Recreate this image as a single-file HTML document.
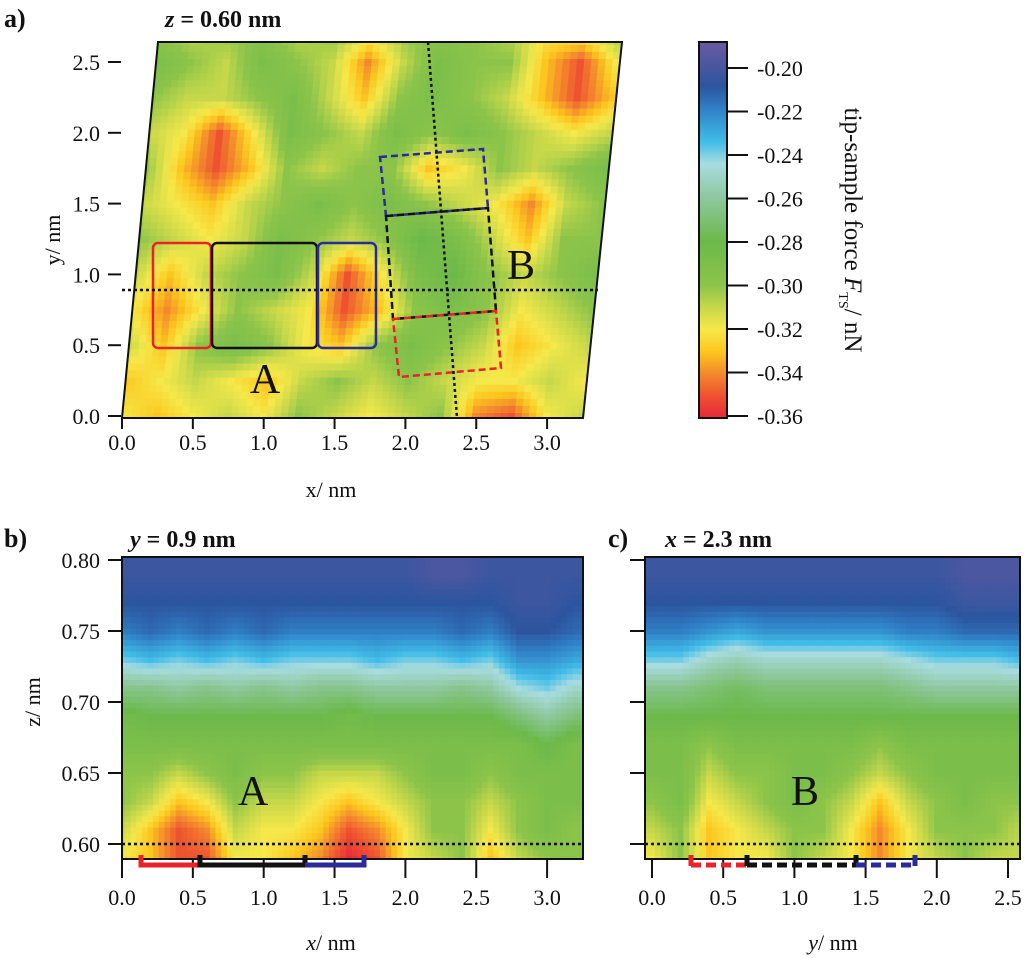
<!DOCTYPE html>
<html><head><meta charset="utf-8"><style>
html,body{margin:0;padding:0;background:#fff}
svg{display:block}
text{font-family:"Liberation Serif",serif;fill:#111}
</style></head><body>
<svg id="fig" width="1024" height="958" viewBox="0 0 1024 958" xmlns="http://www.w3.org/2000/svg">
<defs>
<clipPath id="clipA"><polygon points="122,418 583,418 622,42 158,42"/></clipPath>
<clipPath id="clipB"><rect x="122" y="557" width="461" height="302"/></clipPath>
<clipPath id="clipC"><rect x="645" y="557" width="375" height="302"/></clipPath>
<linearGradient id="cbar" x1="0" y1="1" x2="0" y2="0"></linearGradient>
</defs>
<g id="mapA" clip-path="url(#clipA)"><polygon points="122,418 583,418 622,42 158,42" fill="#b8d64a"/><g id="cellsA"></g></g>
<polygon points="122,418 583,418 622,42 158,42" fill="none" stroke="#111" stroke-width="2"/>
<g id="mapB" clip-path="url(#clipB)"><rect x="122" y="557" width="461" height="302" fill="#8cc44a"/><g id="cellsB"></g></g>
<rect x="122" y="557" width="461" height="302" fill="none" stroke="#111" stroke-width="2"/>
<g id="mapC" clip-path="url(#clipC)"><rect x="645" y="557" width="375" height="302" fill="#8cc44a"/><g id="cellsC"></g></g>
<rect x="645" y="557" width="375" height="302" fill="none" stroke="#111" stroke-width="2"/>
<rect id="cbarRect" x="699" y="42" width="28" height="376" fill="url(#cbar)" stroke="#111" stroke-width="2"/>
<g id="axes"></g>
<g fill="none" stroke-width="2.5">
<rect x="153" y="243" width="58" height="105" rx="5" stroke="#e8232a"/>
<rect x="212" y="243" width="105" height="105" rx="5" stroke="#111"/>
<rect x="318" y="243" width="58" height="105" rx="5" stroke="#2a2a9a"/>
</g>
<g fill="none" stroke-width="2.5" stroke-dasharray="7,4">
<polygon points="380,157 483,149 488,208 386,216" stroke="#2a2a9a"/>
<polygon points="386,216 488,208 496,311 393,319" stroke="#111"/>
<polygon points="393,319 496,311 501,368 399,377" stroke="#e8232a"/>
</g>
<line x1="122" y1="290" x2="598" y2="290" stroke="#111" stroke-width="2.5" stroke-dasharray="3,3"/>
<line x1="428" y1="42" x2="457" y2="418" stroke="#111" stroke-width="2.5" stroke-dasharray="3,3"/>
<text x="265" y="393" font-size="42" text-anchor="middle">A</text>
<text x="521" y="279" font-size="42" text-anchor="middle">B</text>
<line x1="122" y1="844" x2="583" y2="844" stroke="#111" stroke-width="2.5" stroke-dasharray="3,3"/>
<text x="253" y="805" font-size="42" text-anchor="middle">A</text>
<g fill="none" stroke-width="5">
<polyline points="141,855 141,865 200,865" stroke="#e8232a"/>
<polyline points="200,855 200,865 305,865 305,855" stroke="#111"/>
<polyline points="305,865 364,865 364,855" stroke="#2a2a9a"/>
</g>
<line x1="645" y1="844" x2="1020" y2="844" stroke="#111" stroke-width="2.5" stroke-dasharray="3,3"/>
<text x="805" y="805" font-size="42" text-anchor="middle">B</text>
<g fill="none" stroke-width="5">
<line x1="691" y1="855" x2="691" y2="866" stroke="#e8232a"/><line x1="691" y1="865" x2="747" y2="865" stroke="#e8232a" stroke-dasharray="10,5"/>
<line x1="747" y1="855" x2="747" y2="866" stroke="#111"/><line x1="747" y1="865" x2="856" y2="865" stroke="#111" stroke-dasharray="10,5"/>
<line x1="856" y1="855" x2="856" y2="866" stroke="#111"/><line x1="856" y1="865" x2="915" y2="865" stroke="#2a2a9a" stroke-dasharray="10,5"/>
<line x1="915" y1="855" x2="915" y2="866" stroke="#2a2a9a"/>
</g>
<text x="4" y="27" font-size="26" font-weight="bold">a)</text>
<text x="165" y="27" font-size="24" font-weight="bold"><tspan font-style="italic">z</tspan> = 0.60 nm</text>
<text x="4" y="547" font-size="26" font-weight="bold">b)</text>
<text x="130" y="547" font-size="24" font-weight="bold"><tspan font-style="italic">y</tspan> = 0.9 nm</text>
<text x="608" y="547" font-size="26" font-weight="bold">c)</text>
<text x="665" y="547" font-size="24" font-weight="bold"><tspan font-style="italic">x</tspan> = 2.3 nm</text>
<text x="331" y="497" font-size="22" text-anchor="middle">x/ nm</text>
<text transform="translate(60,240) rotate(-90)" font-size="22" text-anchor="middle">y/ nm</text>
<text transform="translate(40,702) rotate(-90)" font-size="22" text-anchor="middle">z/ nm</text>
<text x="331" y="950" font-size="22" text-anchor="middle"><tspan font-style="italic">x</tspan>/ nm</text>
<text x="833" y="950" font-size="22" text-anchor="middle"><tspan font-style="italic">y</tspan>/ nm</text>
<text transform="translate(845,230) rotate(90)" font-size="25" text-anchor="middle">tip-sample force <tspan font-style="italic">F</tspan><tspan font-size="14" dy="6">TS</tspan><tspan dy="-6">/ nN</tspan></text>
</svg>
<script>
const cmapVals = [-0.36,-0.35,-0.34,-0.33,-0.32,-0.31,-0.30,-0.28,-0.26,-0.245,-0.235,-0.22,-0.21,-0.19];
const cmapCols = ["#e8283a","#ef5230","#f3892d","#fcc61e","#f6e84a","#c6d84a","#8cc44a","#6cb94a","#8fc8a0","#a8dce0","#40bce8","#2f7fc4","#2c55a0","#6a5aa0"];
const cbarTicks = [-0.20,-0.22,-0.24,-0.26,-0.28,-0.30,-0.32,-0.34,-0.36];
const aX = [0,0.25,0.5,0.75,1,1.25,1.5,1.75,2,2.25,2.5,2.75,3,3.25];
const aY = [0,0.25,0.5,0.75,1,1.25,1.5,1.75,2,2.25,2.5,2.75];
const aVals = [
[-.32,-.33,-.32,-.31,-.32,-.30,-.31,-.32,-.31,-.30,-.34,-.35,-.32,-.31],
[-.33,-.32,-.31,-.32,-.33,-.31,-.30,-.31,-.30,-.31,-.32,-.32,-.31,-.32],
[-.31,-.33,-.30,-.29,-.30,-.32,-.33,-.30,-.29,-.30,-.31,-.33,-.32,-.31],
[-.32,-.34,-.32,-.30,-.31,-.32,-.35,-.33,-.30,-.29,-.30,-.32,-.31,-.30],
[-.31,-.33,-.31,-.30,-.29,-.31,-.35,-.32,-.29,-.28,-.30,-.31,-.30,-.29],
[-.30,-.31,-.32,-.31,-.29,-.30,-.31,-.30,-.28,-.29,-.31,-.33,-.30,-.30],
[-.31,-.32,-.33,-.31,-.30,-.29,-.30,-.29,-.30,-.31,-.32,-.34,-.31,-.30],
[-.30,-.33,-.35,-.33,-.30,-.31,-.30,-.30,-.33,-.32,-.30,-.31,-.30,-.29],
[-.31,-.32,-.35,-.32,-.29,-.30,-.31,-.29,-.30,-.29,-.30,-.31,-.32,-.31],
[-.30,-.31,-.31,-.30,-.29,-.31,-.33,-.30,-.29,-.30,-.31,-.33,-.35,-.33],
[-.29,-.30,-.31,-.29,-.30,-.31,-.34,-.31,-.29,-.30,-.30,-.33,-.35,-.32],
[-.30,-.31,-.30,-.30,-.31,-.30,-.31,-.30,-.30,-.30,-.31,-.32,-.31,-.30]];
const bX = [0,0.2,0.4,0.6,0.8,1.0,1.2,1.4,1.6,1.8,2.0,2.2,2.4,2.6,2.8,3.0,3.2];
const bZ = [0.59,0.61,0.63,0.65,0.67,0.69,0.71,0.73,0.75,0.77,0.79,0.81];
const bVals = [
[-.32,-.33,-.35,-.35,-.32,-.32,-.33,-.34,-.36,-.35,-.32,-.31,-.30,-.33,-.31,-.30,-.30],
[-.31,-.33,-.35,-.34,-.31,-.32,-.32,-.33,-.35,-.34,-.32,-.30,-.30,-.32,-.30,-.29,-.30],
[-.30,-.31,-.33,-.32,-.30,-.31,-.31,-.32,-.33,-.32,-.31,-.30,-.30,-.31,-.30,-.29,-.29],
[-.30,-.30,-.31,-.30,-.29,-.30,-.30,-.31,-.31,-.31,-.30,-.29,-.29,-.30,-.29,-.29,-.29],
[-.29,-.29,-.29,-.29,-.29,-.29,-.29,-.29,-.29,-.29,-.29,-.29,-.29,-.29,-.29,-.28,-.29],
[-.285,-.28,-.28,-.28,-.28,-.28,-.28,-.28,-.285,-.28,-.28,-.28,-.28,-.28,-.27,-.26,-.27],
[-.265,-.265,-.26,-.265,-.26,-.265,-.26,-.265,-.265,-.26,-.26,-.26,-.265,-.26,-.245,-.24,-.25],
[-.24,-.235,-.24,-.235,-.24,-.235,-.24,-.24,-.24,-.235,-.24,-.24,-.235,-.24,-.225,-.225,-.23],
[-.22,-.215,-.22,-.215,-.22,-.215,-.22,-.22,-.22,-.22,-.22,-.22,-.215,-.22,-.21,-.21,-.215],
[-.21,-.21,-.21,-.21,-.21,-.21,-.21,-.21,-.21,-.21,-.21,-.21,-.21,-.21,-.205,-.205,-.21],
[-.205,-.205,-.205,-.205,-.205,-.205,-.205,-.205,-.205,-.205,-.205,-.2,-.2,-.205,-.205,-.205,-.205],
[-.205,-.205,-.205,-.205,-.205,-.205,-.205,-.205,-.205,-.205,-.205,-.2,-.2,-.205,-.205,-.205,-.205]];
const cY = [0,0.2,0.4,0.6,0.8,1.0,1.2,1.4,1.6,1.8,2.0,2.2,2.4,2.6];
const cZ = [0.59,0.61,0.63,0.65,0.67,0.69,0.71,0.73,0.75,0.77,0.79,0.81];
const cVals = [
[-.32,-.30,-.33,-.32,-.32,-.30,-.31,-.32,-.34,-.32,-.31,-.30,-.31,-.31],
[-.31,-.30,-.33,-.32,-.31,-.30,-.30,-.32,-.34,-.32,-.30,-.30,-.30,-.31],
[-.30,-.29,-.32,-.31,-.30,-.29,-.30,-.31,-.33,-.31,-.30,-.29,-.30,-.30],
[-.29,-.29,-.31,-.30,-.30,-.29,-.29,-.30,-.31,-.30,-.29,-.29,-.29,-.29],
[-.29,-.29,-.30,-.29,-.29,-.29,-.29,-.29,-.30,-.29,-.29,-.29,-.29,-.29],
[-.28,-.28,-.28,-.28,-.28,-.28,-.28,-.28,-.28,-.28,-.28,-.28,-.28,-.28],
[-.265,-.265,-.27,-.275,-.27,-.27,-.27,-.27,-.27,-.265,-.26,-.26,-.26,-.26],
[-.24,-.24,-.25,-.255,-.25,-.25,-.25,-.25,-.25,-.245,-.24,-.24,-.24,-.235],
[-.22,-.22,-.225,-.23,-.225,-.225,-.225,-.225,-.225,-.22,-.22,-.215,-.215,-.215],
[-.21,-.21,-.21,-.21,-.21,-.21,-.21,-.21,-.21,-.21,-.21,-.205,-.205,-.205],
[-.205,-.205,-.205,-.205,-.205,-.205,-.205,-.205,-.205,-.205,-.205,-.2,-.2,-.2],
[-.205,-.205,-.205,-.205,-.205,-.205,-.205,-.205,-.205,-.205,-.205,-.2,-.2,-.2]];
const aXTicks = [0.0,0.5,1.0,1.5,2.0,2.5,3.0];
const aYTicks = [0.0,0.5,1.0,1.5,2.0,2.5];
const bZTicks = [0.60,0.65,0.70,0.75,0.80];
const cYTicks = [0.0,0.5,1.0,1.5,2.0,2.5];

const NS="http://www.w3.org/2000/svg";
function hex(h){return [parseInt(h.substr(1,2),16),parseInt(h.substr(3,2),16),parseInt(h.substr(5,2),16)];}
function color(v){
  if(v<=cmapVals[0])return cmapCols[0];
  for(let i=1;i<cmapVals.length;i++){ if(v<=cmapVals[i]){
    const t=(v-cmapVals[i-1])/(cmapVals[i]-cmapVals[i-1]);const a=hex(cmapCols[i-1]),b=hex(cmapCols[i]);
    return "rgb("+a.map((c,k)=>Math.round(c+(b[k]-c)*t)).join(",")+")";}}
  return cmapCols[cmapCols.length-1];
}
function mk(tag,attrs,parent){const e=document.createElementNS(NS,tag);for(const k in attrs)e.setAttribute(k,attrs[k]);parent.appendChild(e);return e;}
// bilinear sample of grid at fractional indices (row fj, col fi)
function sample(g,fj,fi){
  const R=g.length-1,C=g[0].length-1;
  fj=Math.max(0,Math.min(R,fj));fi=Math.max(0,Math.min(C,fi));
  const j0=Math.min(R-1,Math.floor(fj)),i0=Math.min(C-1,Math.floor(fi));
  const tj=fj-j0,ti=fi-i0;
  const a=g[j0][i0]*(1-ti)+g[j0][i0+1]*ti, b=g[j0+1][i0]*(1-ti)+g[j0+1][i0+1]*ti;
  return a*(1-tj)+b*tj;
}
const axA=(x,y)=>[122+141.7*x+13.6*y, 416-141.6*y];
const bx=x=>122+141.7*x, bz=z=>844-1420*(z-0.60);
const cx=y=>652+142.4*y;
const axes=document.getElementById('axes');
const S=5;

// panel a
const gA=document.getElementById('cellsA');
const dxA=aX[1]-aX[0], dyA=aY[1]-aY[0];
for(let j=0;j<aY.length*S;j++)for(let i=0;i<aX.length*S;i++){
  const fi=(i+0.5)/S-0.5, fj=(j+0.5)/S-0.5;
  const x=aX[0]+fi*dxA, y=aY[0]+fj*dyA, hx=dxA/S/2+0.004, hy=dyA/S/2+0.004;
  const v=sample(aVals,fj,fi);
  const p=[axA(x-hx,y-hy),axA(x+hx,y-hy),axA(x+hx,y+hy),axA(x-hx,y+hy)];
  const el=mk('polygon',{points:p.map(q=>q[0].toFixed(1)+','+q[1].toFixed(1)).join(' '),fill:color(v)},gA);
  
  
}
// panel b / c
function drawProfile(gid,cols,rows,vals,xf,name){
  const g=document.getElementById(gid);
  const dx=cols[1]-cols[0], dz=rows[1]-rows[0];
  for(let j=0;j<rows.length*S;j++)for(let i=0;i<cols.length*S;i++){
    const fi=(i+0.5)/S-0.5, fj=(j+0.5)/S-0.5;
    const x=cols[0]+fi*dx, z=rows[0]+fj*dz;
    const x0=xf(x-dx/S/2),x1=xf(x+dx/S/2),y0=bz(z+dz/S/2),y1=bz(z-dz/S/2);
    const el=mk('rect',{x:x0.toFixed(1),y:y0.toFixed(1),width:(x1-x0+0.6).toFixed(1),height:(y1-y0+0.6).toFixed(1),fill:color(sample(vals,fj,fi))},g);
    
    
  }
}
drawProfile('cellsB',bX,bZ,bVals,bx,'map-b-cell');
drawProfile('cellsC',cY,cZ,cVals,cx,'map-c-cell');

const grad=document.getElementById('cbar');
const cbTop=-0.19, cbBot=-0.36;
cmapVals.forEach((v,i)=>{mk('stop',{offset:((v-cbBot)/(cbTop-cbBot)).toFixed(3),'stop-color':cmapCols[i]},grad);});
const cbY=v=>416-(v+0.36)/0.02*43.5;
cbarTicks.forEach(v=>{
  const t=mk('line',{x1:727,x2:748,y1:cbY(v),y2:cbY(v),stroke:'#111','stroke-width':2},axes);
  
  
  const l=mk('text',{x:757,y:cbY(v)+8,'font-size':22},axes);l.textContent=v.toFixed(2);
  
  
});
aXTicks.forEach(v=>{const p=axA(v,0);
  const t=mk('line',{x1:p[0],x2:p[0],y1:419,y2:429,stroke:'#111','stroke-width':2},axes);
  
  const l=mk('text',{x:p[0],y:450,'font-size':22,'text-anchor':'middle'},axes);l.textContent=v.toFixed(1);
  });
aYTicks.forEach(v=>{const y=axA(0,v)[1];
  const t=mk('line',{x1:108,x2:121,y1:y,y2:y,stroke:'#111','stroke-width':2},axes);
  
  const l=mk('text',{x:100,y:y+8,'font-size':22,'text-anchor':'end'},axes);l.textContent=v.toFixed(1);
  });
aXTicks.forEach(v=>{const x=bx(v);
  const t=mk('line',{x1:x,x2:x,y1:860,y2:878,stroke:'#111','stroke-width':2},axes);
  
  const l=mk('text',{x:x,y:905,'font-size':22,'text-anchor':'middle'},axes);l.textContent=v.toFixed(1);
  });
bZTicks.forEach(v=>{const y=bz(v);
  const t=mk('line',{x1:108,x2:121,y1:y,y2:y,stroke:'#111','stroke-width':2},axes);
  
  const l=mk('text',{x:100,y:y+8,'font-size':22,'text-anchor':'end'},axes);l.textContent=v.toFixed(2);
  
  const t2=mk('line',{x1:630,x2:644,y1:y,y2:y,stroke:'#111','stroke-width':2},axes);
  });
cYTicks.forEach(v=>{const x=cx(v);
  const t=mk('line',{x1:x,x2:x,y1:860,y2:878,stroke:'#111','stroke-width':2},axes);
  
  const l=mk('text',{x:x,y:905,'font-size':22,'text-anchor':'middle'},axes);l.textContent=v.toFixed(1);
  });
</script>
</body></html>
